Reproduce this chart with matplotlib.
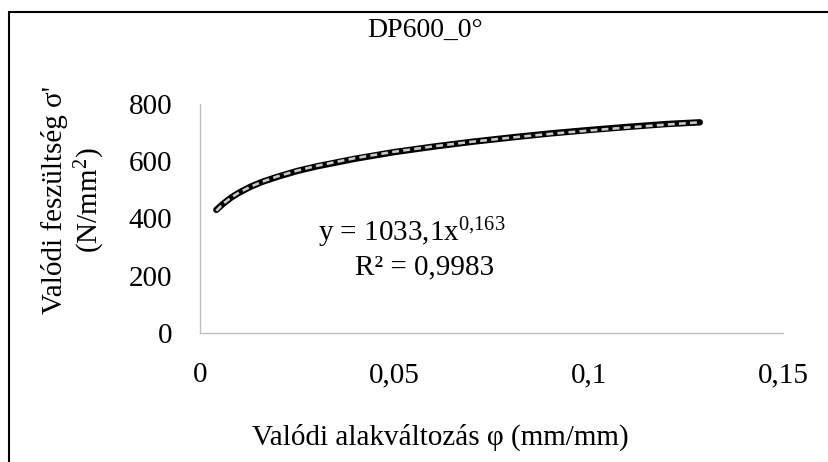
import numpy as np
import matplotlib
matplotlib.use("Agg")
import matplotlib.pyplot as plt
from matplotlib.patches import Rectangle

plt.rcParams['font.family'] = ['Liberation Serif', 'DejaVu Serif']
plt.rcParams['mathtext.fontset'] = 'custom'
plt.rcParams['mathtext.rm'] = 'Liberation Serif'
plt.rcParams['mathtext.it'] = 'Liberation Serif:italic'

strain = [0.0042, 0.006, 0.008, 0.010, 0.013, 0.016, 0.020, 0.025, 0.030,
          0.040, 0.050, 0.060, 0.070, 0.080, 0.090, 0.100, 0.110, 0.120, 0.1286]
stress = [430, 452, 473, 490, 511, 528, 546, 566, 582,
          609, 632, 651, 668, 683, 697, 709, 720, 730, 736]

x_ticks = [0, 0.05, 0.1, 0.15]
x_ticklabels = ['0', '0,05', '0,1', '0,15']
y_ticks = [0, 200, 400, 600, 800]
y_ticklabels = ['0', '200', '400', '600', '800']

title = 'DP600_0°'
xlabel = 'Valódi alakváltozás φ (mm/mm)'
ylabel = "Valódi feszültség σ'\n(N/mm$^2$)"
eq_text = 'y = 1033,1x$^{0{,}163}$'
r2_text = 'R² = 0,9983'

W, H = 829, 462
fig = plt.figure(figsize=(W / 100, H / 100), dpi=100)

# axes placed in pixels: x 200..783, y 104..333
ax = fig.add_axes([200 / W, 1 - 333 / H, 583 / W, 229 / H])

# power-law trendline fitted to the data (like the spreadsheet did)
b, ln_a = np.polyfit(np.log(strain), np.log(stress), 1)
xs = np.array(strain)
trend = np.exp(ln_a) * xs ** b

ax.plot(strain, stress, color='black', lw=4.6, solid_capstyle='round', zorder=2)
ax.plot(xs, trend, color='#C8C8C8', lw=1.9, dashes=(2.6, 1.6), zorder=3)

ax.set_xlim(0, 0.15)
ax.set_ylim(0, 800)
ax.set_xticks(x_ticks)
ax.set_xticklabels(x_ticklabels)
ax.set_yticks(y_ticks)
ax.set_yticklabels(y_ticklabels)
ax.tick_params(length=0, labelsize=21)
ax.tick_params(axis='y', pad=20)
ax.tick_params(axis='x', pad=21)
for s in ['top', 'right']:
    ax.spines[s].set_visible(False)
for s in ['left', 'bottom']:
    ax.spines[s].set_color('#BFBFBF')
    ax.spines[s].set_linewidth(1.0)

fig.text(425 / W, 1 - 30 / H, title, ha='center', va='center', fontsize=20)
fig.text(440 / W, 1 - 437 / H, xlabel, ha='center', va='center', fontsize=21)
fig.text(74 / W, 1 - 200 / H, ylabel, ha='center', va='center', rotation=90,
         fontsize=21, linespacing=1.2, multialignment='center')
fig.text(412 / W, 1 - 233 / H, eq_text, ha='center', va='center', fontsize=21)
fig.text(425 / W, 1 - 267 / H, r2_text, ha='center', va='center', fontsize=21)

# chart border (continues past the right and bottom edges)
fig.patches.append(Rectangle((9 / W, -0.1), 1.2, 1 - 12 / H + 0.1,
                             transform=fig.transFigure, fill=False,
                             edgecolor='black', lw=1.5))

fig.savefig('out.png', dpi=100)
